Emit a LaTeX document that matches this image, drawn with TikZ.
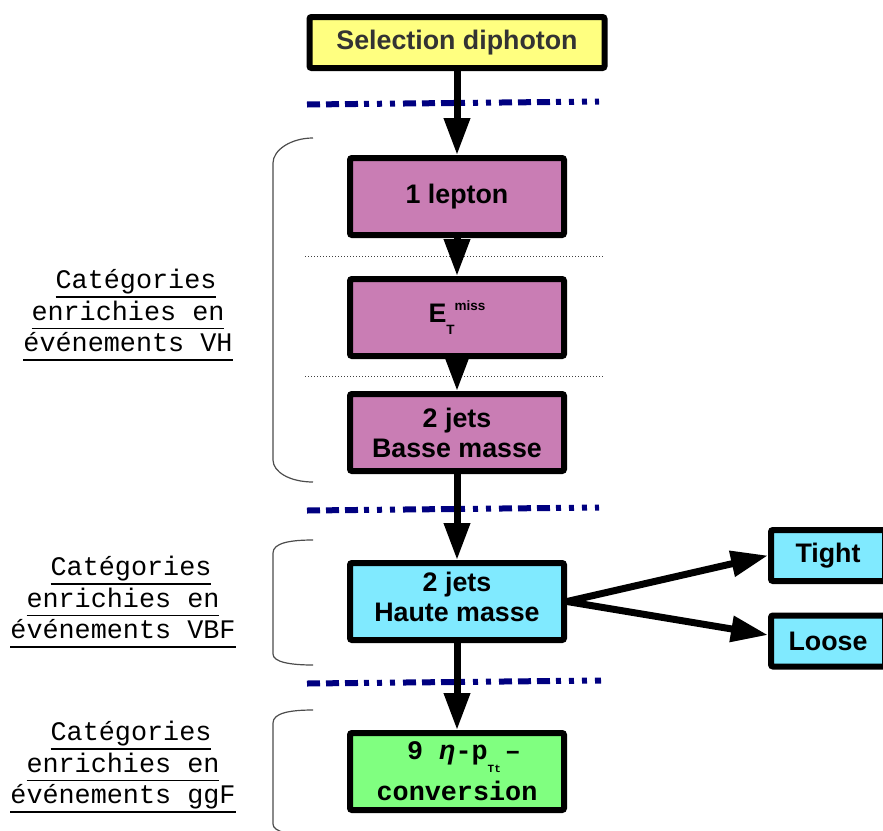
\documentclass[tikz,border=0pt]{standalone}
\usepackage{fontspec}
\usetikzlibrary{arrows.meta, positioning}
\newfontfamily\boxfont{Liberation Sans}
\newfontfamily\labfont{Liberation Mono}
\definecolor{selyellow}{RGB}{255, 255, 128}
\definecolor{seltext}{RGB}{51, 51, 51}
\definecolor{vhpink}{RGB}{201, 125, 180}
\definecolor{vbfcyan}{RGB}{128, 234, 255}
\definecolor{ggfgreen}{RGB}{128, 255, 128}
\definecolor{sepblue}{RGB}{0, 0, 128}
\newcommand\ulbar[1]{\setbox0\hbox{#1}\rlap{\rule[-9pt]{\wd0}{1.6pt}}\box0}

\begin{document}
\begin{tikzpicture}[
        x=1pt, y=-1pt,
        node distance=38pt,
        catbox/.style={rectangle, rounded corners=2pt, draw, line width=6pt,
                      minimum width=214pt, minimum height=77pt,
                      align=center, font=\boxfont\bfseries\fontsize{26.8}{30}\selectfont},
        sidebox/.style={catbox, minimum width=114pt, minimum height=51pt, fill=vbfcyan},
        catlabel/.style={align=center, inner sep=0pt,
                      font=\labfont\fontsize{26.8}{31.5}\selectfont},
        arrow/.style={-{Triangle[length=37pt, width=25pt]}, line width=7pt},
        sepline/.style={sepblue, line width=6pt,
                      dash pattern=on 13pt off 6pt on 13pt off 6pt on 13pt off 6pt
                                   on 5pt off 8pt on 5pt off 8pt on 5pt off 8pt},
        subline/.style={black!75, line width=1pt, dotted},
        brace/.style={black!70, line width=1.2pt},
    ]
        \useasboundingbox (0,0) rectangle (883,830);

        \node[catbox, fill=selyellow, minimum width=295pt, minimum height=51pt,
              text=seltext] (sel) at (457,42.5) {Selection diphoton};
        \node[catbox, fill=vhpink, below=84pt of sel] (lepton) {1 lepton};
        \node[catbox, fill=vhpink, below=of lepton] (met)
            {E\raisebox{-12pt}{\fontsize{13.5}{13.5}\selectfont T}\raisebox{12pt}{\fontsize{13.5}{13.5}\selectfont miss}};
        \node[catbox, fill=vhpink, below=32pt of met] (basse) {2 jets\\Basse masse};
        \node[catbox, fill=vbfcyan, below=86pt of basse] (haute)
            {2 jets\\Haute masse\rule[-10pt]{0pt}{10pt}};
        \node[catbox, fill=ggfgreen, below=87pt of haute,
              font=\labfont\bfseries\fontsize{26.8}{41}\selectfont] (ggf)
            {\hspace{14pt}9 {\boxfont\itshape η}-p\raisebox{-13pt}{\fontsize{11}{11}\selectfont Tt}\hspace{4pt}–\\conversion};
        \node[sidebox] (tight) at (828,555.5) {Tight};
        \node[sidebox] (loose) at (828,641) {Loose};

        % category labels
        \node[catlabel] (vhlab) at (128,315)
            {\hphantom{C}\ulbar{Catégories}\\\ulbar{enrichies en}\\\ulbar{événements VH}};
        \node[catlabel] (vbflab) at (123,602)
            {\hphantom{C}\ulbar{Catégories}\\\ulbar{enrichies en}\\\ulbar{événements VBF}};
        \node[catlabel] (ggflab) at (123,767)
            {\hphantom{C}\ulbar{Catégories}\\\ulbar{enrichies en}\\\ulbar{événements ggF}};

        % braces
        \draw[brace] (313,138) .. controls (291,138) and (273,150) .. (273,163)
            -- (273,460) .. controls (273,472) and (290,482) .. (313,482);
        \draw[brace] (313,540) .. controls (290,540) and (273,543) .. (273,553)
            -- (273,654) .. controls (273,662) and (290,665) .. (313,665);
        \draw[brace] (313,710) .. controls (290,710) and (273,713) .. (273,723)
            -- (273,824) .. controls (273,832) and (290,835) .. (313,835);

        % separators
        \draw[sepline] (307,104.5) -- (599,101.5);
        \draw[sepline] (307,510.5) -- (599,507.5);
        \draw[sepline] (307,683.5) -- (601,680.5);
        \draw[subline] (305,256) -- (603,256);
        \draw[subline] (305,376) -- (603,376);

        \draw[arrow] (sel) -- (lepton);
        \draw[arrow] (lepton) -- (met);
        \draw[arrow] (met) -- (basse);
        \draw[arrow] (basse) -- (haute);
        \draw[arrow] (haute) -- (ggf);
        \draw[arrow] (haute.east) -- (tight.west);
        \draw[arrow] (haute.east) -- ([yshift=6pt]loose.west);

    \end{tikzpicture}
\end{document}
